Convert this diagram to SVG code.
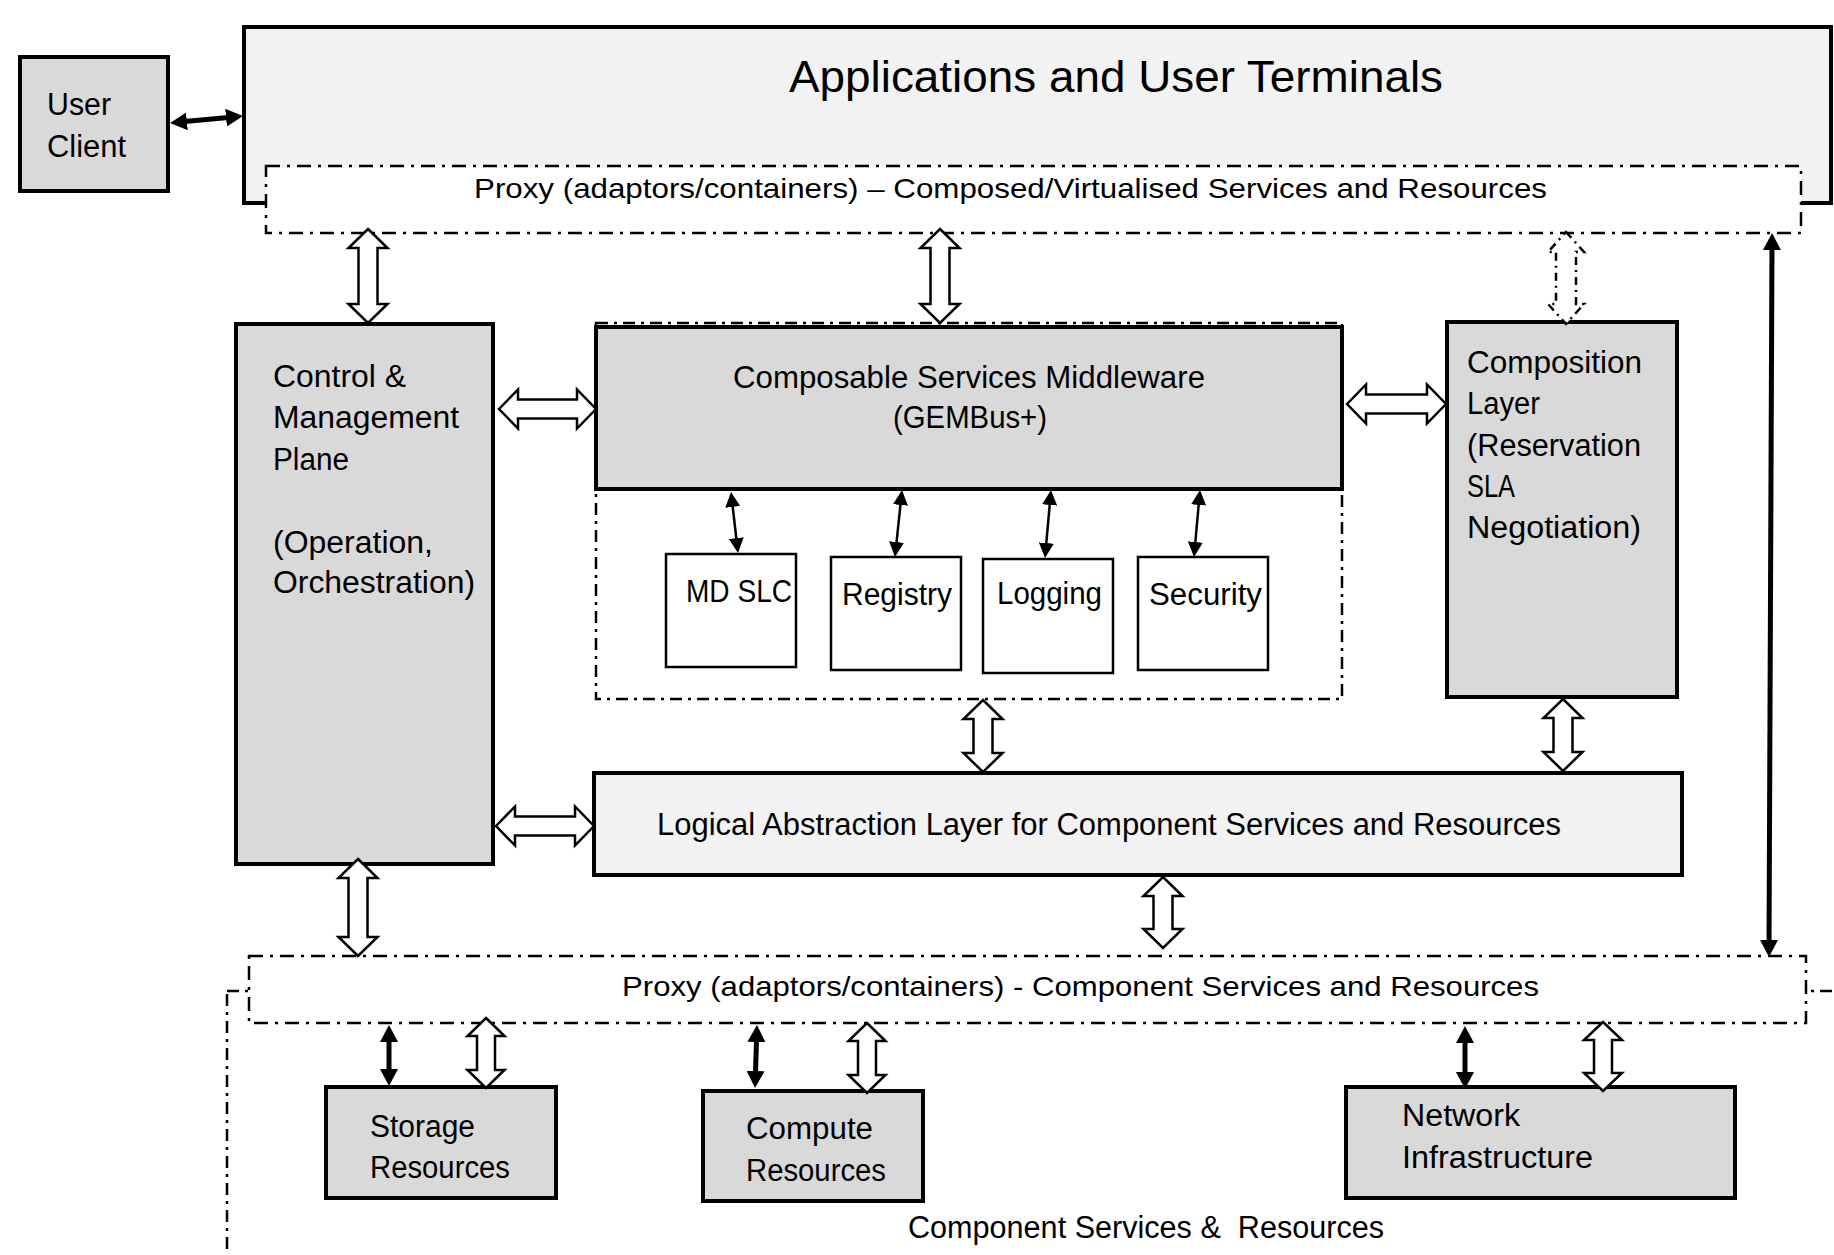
<svg xmlns="http://www.w3.org/2000/svg" width="1834" height="1255" viewBox="0 0 1834 1255">
<style>
text{font-family:"Liberation Sans",Arial,sans-serif;fill:#000;}
.t{font-size:31px;}
.tp{font-size:28px;}
.box{fill:#d9d9d9;stroke:#000;stroke-width:4;}
.light{fill:#f2f2f2;stroke:#000;stroke-width:4;}
.sub{fill:#fff;stroke:#000;stroke-width:2.5;}
.dd{fill:#fff;stroke:#000;stroke-width:2.5;stroke-dasharray:14 7 3 7;}
.ddn{fill:none;stroke:#000;stroke-width:2.5;stroke-dasharray:12 6 3 6;}
.hollow{fill:#fff;stroke:#000;stroke-width:2.5;stroke-linejoin:miter;}
.hollowd{fill:#fff;stroke:#000;stroke-width:2.5;stroke-dasharray:8 5 2 5;}
.thick{stroke:#000;stroke-width:5;fill:none;marker-start:url(#hk);marker-end:url(#hk);}
.thin{stroke:#000;stroke-width:2.5;fill:none;marker-start:url(#hs);marker-end:url(#hs);}
</style>
<defs>
<marker id="hk" viewBox="0 0 17 18" refX="8" refY="9" markerWidth="17" markerHeight="18" markerUnits="userSpaceOnUse" orient="auto-start-reverse"><path d="M0,0 L17,9 L0,18 Z" fill="#000"/></marker>
<marker id="hs" viewBox="0 0 15 15" refX="7" refY="7.5" markerWidth="15" markerHeight="15" markerUnits="userSpaceOnUse" orient="auto-start-reverse"><path d="M0,0 L15,7.5 L0,15 Z" fill="#000"/></marker>
</defs>
<rect width="1834" height="1255" fill="#fff"/>

<g id="component-area">
<rect class="ddn" x="227" y="991" width="1700" height="400"/>
<text x="908" y="1238" class="t" textLength="476" lengthAdjust="spacingAndGlyphs" style="white-space:pre">Component Services &amp;  Resources</text>
</g>

<g id="user-client">
<rect class="box" x="20" y="57" width="148" height="134"/>
<text x="47" y="115" class="t" textLength="64" lengthAdjust="spacingAndGlyphs">User</text>
<text x="47" y="157" class="t" textLength="79" lengthAdjust="spacingAndGlyphs">Client</text>
</g>

<g id="applications">
<rect class="light" x="244" y="27" width="1587" height="176"/>
<text x="789" y="92" font-size="44" textLength="654" lengthAdjust="spacingAndGlyphs">Applications and User Terminals</text>
</g>

<g id="proxy-top">
<rect class="dd" x="266" y="166" width="1535" height="67"/>
<text x="474" y="198" class="tp" textLength="1073" lengthAdjust="spacingAndGlyphs">Proxy (adaptors/containers) – Composed/Virtualised Services and Resources</text>
</g>

<g id="control-plane">
<rect class="box" x="236" y="324" width="257" height="540"/>
<text x="273" y="387" class="t" textLength="133" lengthAdjust="spacingAndGlyphs">Control &amp;</text>
<text x="273" y="428" class="t" textLength="186" lengthAdjust="spacingAndGlyphs">Management</text>
<text x="273" y="470" class="t" textLength="76" lengthAdjust="spacingAndGlyphs">Plane</text>
<text x="273" y="553" class="t" textLength="160" lengthAdjust="spacingAndGlyphs">(Operation,</text>
<text x="273" y="593" class="t" textLength="202" lengthAdjust="spacingAndGlyphs">Orchestration)</text>
</g>

<g id="middleware-container">
<rect class="ddn" x="596" y="323" width="746" height="376"/>
</g>

<g id="middleware">
<rect class="box" x="596" y="327" width="746" height="162"/>
<text x="733" y="388" class="t" textLength="472" lengthAdjust="spacingAndGlyphs">Composable Services Middleware</text>
<text x="893" y="428" class="t" textLength="154" lengthAdjust="spacingAndGlyphs">(GEMBus+)</text>
</g>

<g id="md-slc">
<rect class="sub" x="666" y="554" width="130" height="113"/>
<text x="686" y="602" class="t" textLength="106" lengthAdjust="spacingAndGlyphs">MD SLC</text>
</g>
<g id="registry">
<rect class="sub" x="831" y="557" width="130" height="113"/>
<text x="842" y="605" class="t" textLength="110" lengthAdjust="spacingAndGlyphs">Registry</text>
</g>
<g id="logging">
<rect class="sub" x="983" y="559" width="130" height="114"/>
<text x="997" y="604" class="t" textLength="105" lengthAdjust="spacingAndGlyphs">Logging</text>
</g>
<g id="security">
<rect class="sub" x="1138" y="557" width="130" height="113"/>
<text x="1149" y="605" class="t" textLength="113" lengthAdjust="spacingAndGlyphs">Security</text>
</g>

<g id="composition-layer">
<rect class="box" x="1447" y="322" width="230" height="375"/>
<text x="1467" y="373" class="t" textLength="175" lengthAdjust="spacingAndGlyphs">Composition</text>
<text x="1467" y="414" class="t" textLength="73" lengthAdjust="spacingAndGlyphs">Layer</text>
<text x="1467" y="456" class="t" textLength="174" lengthAdjust="spacingAndGlyphs">(Reservation</text>
<text x="1467" y="497" class="t" textLength="48" lengthAdjust="spacingAndGlyphs">SLA</text>
<text x="1467" y="538" class="t" textLength="174" lengthAdjust="spacingAndGlyphs">Negotiation)</text>
</g>

<g id="logical-layer">
<rect class="light" x="594" y="773" width="1088" height="102"/>
<text x="657" y="835" class="t" textLength="904" lengthAdjust="spacingAndGlyphs">Logical Abstraction Layer for Component Services and Resources</text>
</g>

<g id="proxy-bottom">
<rect class="dd" x="249" y="956" width="1557" height="67"/>
<text x="622" y="996" class="tp" textLength="917" lengthAdjust="spacingAndGlyphs">Proxy (adaptors/containers) - Component Services and Resources</text>
</g>

<g id="storage">
<rect class="box" x="326" y="1087" width="230" height="111"/>
<text x="370" y="1137" class="t" textLength="105" lengthAdjust="spacingAndGlyphs">Storage</text>
<text x="370" y="1178" class="t" textLength="140" lengthAdjust="spacingAndGlyphs">Resources</text>
</g>
<g id="compute">
<rect class="box" x="703" y="1091" width="220" height="110"/>
<text x="746" y="1139" class="t" textLength="127" lengthAdjust="spacingAndGlyphs">Compute</text>
<text x="746" y="1181" class="t" textLength="140" lengthAdjust="spacingAndGlyphs">Resources</text>
</g>
<g id="network">
<rect class="box" x="1346" y="1087" width="389" height="111"/>
<text x="1402" y="1126" class="t" textLength="118" lengthAdjust="spacingAndGlyphs">Network</text>
<text x="1402" y="1168" class="t" textLength="191" lengthAdjust="spacingAndGlyphs">Infrastructure</text>
</g>

<g id="connectors">
<path class="hollow" d="M368,229 L387.5,248 L377.5,248 L377.5,304 L387.5,304 L368,323 L348.5,304 L358.5,304 L358.5,248 L348.5,248 Z"/>
<path class="hollow" d="M940,229 L959.5,248 L949.5,248 L949.5,304 L959.5,304 L940,323 L920.5,304 L930.5,304 L930.5,248 L920.5,248 Z"/>
<path class="hollowd" d="M1566,232 L1584,252 L1576,252 L1576,304 L1584,304 L1566,324 L1548,304 L1556,304 L1556,252 L1548,252 Z"/>
<path class="hollow" d="M499,409 L518,389.5 L518,399.5 L577,399.5 L577,389.5 L596,409 L577,428.5 L577,418.5 L518,418.5 L518,428.5 Z"/>
<path class="hollow" d="M1347,404 L1366,384.5 L1366,394.5 L1427,394.5 L1427,384.5 L1446,404 L1427,423.5 L1427,413.5 L1366,413.5 L1366,423.5 Z"/>
<path class="hollow" d="M983,700 L1002.5,719 L992.5,719 L992.5,753 L1002.5,753 L983,772 L963.5,753 L973.5,753 L973.5,719 L963.5,719 Z"/>
<path class="hollow" d="M1563,699 L1582.5,718 L1572.5,718 L1572.5,752 L1582.5,752 L1563,771 L1543.5,752 L1553.5,752 L1553.5,718 L1543.5,718 Z"/>
<path class="hollow" d="M496,826 L515,806.5 L515,816.5 L575,816.5 L575,806.5 L594,826 L575,845.5 L575,835.5 L515,835.5 L515,845.5 Z"/>
<path class="hollow" d="M358,859 L377.5,878 L367.5,878 L367.5,937 L377.5,937 L358,956 L338.5,937 L348.5,937 L348.5,878 L338.5,878 Z"/>
<path class="hollow" d="M1163,877 L1182.5,896 L1172.5,896 L1172.5,929 L1182.5,929 L1163,948 L1143.5,929 L1153.5,929 L1153.5,896 L1143.5,896 Z"/>
<path class="hollow" d="M486,1018 L504.5,1036 L495,1036 L495,1070 L504.5,1070 L486,1088 L467.5,1070 L477,1070 L477,1036 L467.5,1036 Z"/>
<path class="hollow" d="M867,1023 L885.5,1041 L876,1041 L876,1075 L885.5,1075 L867,1093 L848.5,1075 L858,1075 L858,1041 L848.5,1041 Z"/>
<path class="hollow" d="M1603,1022 L1622,1040 L1612,1040 L1612,1073 L1622,1073 L1603,1091 L1584,1073 L1594,1073 L1594,1040 L1584,1040 Z"/>
<line class="thick" x1="179" y1="122.1" x2="234" y2="116.9"/>
<line class="thick" x1="1772" y1="242" x2="1769" y2="948"/>
<line class="thick" x1="389" y1="1034" x2="389" y2="1077"/>
<line class="thick" x1="756.7" y1="1034" x2="755.3" y2="1079"/>
<line class="thick" x1="1465" y1="1035" x2="1465" y2="1080"/>
<line class="thin" x1="731.9" y1="500" x2="737.1" y2="545"/>
<line class="thin" x1="901.2" y1="498" x2="895.8" y2="549"/>
<line class="thin" x1="1050.3" y1="498" x2="1045.7" y2="550"/>
<line class="thin" x1="1199.3" y1="498" x2="1194.7" y2="549"/>
</g>
</svg>
